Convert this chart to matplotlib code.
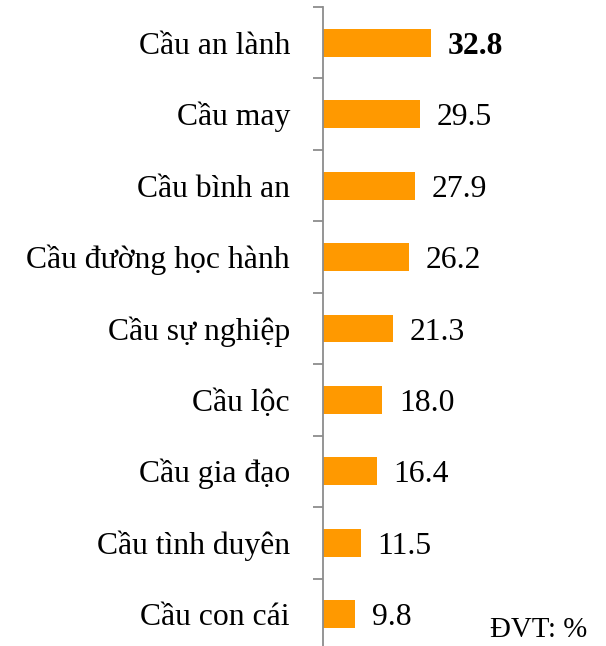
import matplotlib
matplotlib.use("Agg")
import matplotlib.pyplot as plt
import numpy as np

# ─── Data ─────────────────────────────────────────────────────────────────────
categories = ["Cầu an lành", "Cầu may", "Cầu bình an", "Cầu đường học hành",
              "Cầu sự nghiệp", "Cầu lộc", "Cầu gia đạo", "Cầu tình duyên",
              "Cầu con cái"]
values = [32.8, 29.5, 27.9, 26.2, 21.3, 18.0, 16.4, 11.5, 9.8]
unit_note = "ĐVT: %"

BAR_COLOR = "#FF9900"
AXIS_COLOR = "#8C8C8C"
FONT = "Liberation Serif"
FS = 22.8
BASE_DROP = -11 * 0.72     # baseline sits ~11 px under the bar centre

plt.rcParams["font.family"] = [FONT, "DejaVu Serif"]

W, H = 606, 646
fig = plt.figure(figsize=(W / 100, H / 100), dpi=100)
ax_left = 323 / W
ax_top = 1 - 7 / H
ax_bottom = (H - 650) / H
ax = fig.add_axes([ax_left, ax_bottom, 1 - ax_left, ax_top - ax_bottom])

n = len(categories)
y = np.arange(n)
ax.barh(y, values, height=0.39, color=BAR_COLOR)
ax.set_ylim(n - 0.5, -0.5)
ax.set_xlim(0, (W - 323) / 3.29)

# value labels
for i, v in enumerate(values):
    ax.annotate(f"{v:.1f}", (v, i), xytext=(12, BASE_DROP), textcoords="offset points",
                va="baseline", ha="left", fontsize=FS,
                fontweight="bold" if i == 0 else "normal")

# category labels
for i, cat in enumerate(categories):
    ax.annotate(cat, (0, i), xytext=(-33 * 0.72, BASE_DROP), textcoords="offset points",
                va="baseline", ha="right", fontsize=FS, annotation_clip=False)

ax.set_yticks([])
ax.set_yticks(np.arange(n + 1) - 0.5, minor=True)
ax.tick_params(axis="y", which="minor", length=7, width=1.3, color=AXIS_COLOR,
               labelleft=False)
ax.set_xticks([])

for s in ["top", "right", "bottom"]:
    ax.spines[s].set_visible(False)
ax.spines["left"].set_color(AXIS_COLOR)
ax.spines["left"].set_linewidth(1.3)

fig.text(587 / W, 1 - 637 / H, unit_note, ha="right", va="baseline", fontsize=20.8)

fig.savefig("out.png", dpi=100)
plt.close(fig)
